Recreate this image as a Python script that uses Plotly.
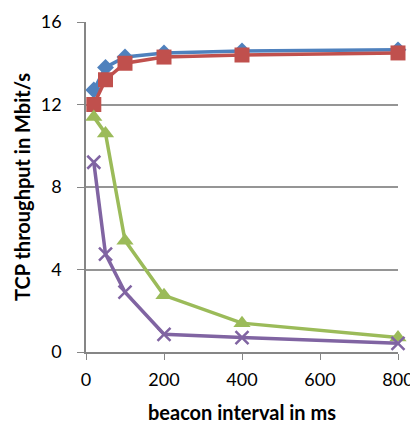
import plotly.graph_objects as go

x_vals = [20, 50, 100, 200, 400, 800]
blue_vals = [12.7, 13.8, 14.3, 14.5, 14.6, 14.65]
red_vals = [12.0, 13.2, 14.0, 14.3, 14.4, 14.5]
green_vals = [11.4, 10.6, 5.4, 2.75, 1.4, 0.7]
purple_vals = [9.2, 4.75, 2.9, 0.86, 0.7, 0.42]

x_ticks = [0, 200, 400, 600, 800]
y_ticks = [0, 4, 8, 12, 16]

series = [
    ("blue", blue_vals, "#4F81BD", "diamond", 13),
    ("red", red_vals, "#C0504D", "square", 15),
    ("green", green_vals, "#9BBB59", "triangle-up", 15),
    ("purple", purple_vals, "#8064A2", "x-thin", 13),
]

fig = go.Figure()
for name, vals, color, sym, size in series:
    marker = dict(symbol=sym, size=size, color=color)
    if sym == "x-thin":
        marker["line"] = dict(color=color, width=2.5)
    fig.add_trace(go.Scatter(
        x=x_vals, y=vals, mode="lines+markers", name=name,
        line=dict(color=color, width=3.5),
        marker=marker, cliponaxis=False,
    ))

# The page body has an 8px default margin, so the figure is sized to fit.
font = "Lato, 'Open Sans', sans-serif"
fig.update_layout(
    width=410, height=416,
    margin=dict(l=78, r=20, t=14, b=72),
    paper_bgcolor="white", plot_bgcolor="white",
    showlegend=False,
    font=dict(family=font, size=18, color="black"),
)
fig.update_xaxes(
    range=[0, 800], tickvals=x_ticks, showgrid=False,
    showline=True, linecolor="#868686", linewidth=1.5,
    ticks="outside", tickcolor="#868686", ticklen=6,
    ticklabelstandoff=5,
    zeroline=False, automargin=False,
    title=dict(text="<b>beacon interval in ms</b>", font=dict(size=20), standoff=20),
)
fig.update_yaxes(
    range=[0, 16], tickvals=y_ticks, showgrid=True,
    gridcolor="#959595", gridwidth=1.5,
    showline=True, linecolor="#868686", linewidth=1.5,
    ticks="outside", tickcolor="#868686", ticklen=7,
    ticklabelstandoff=12,
    zeroline=False, automargin=False,
    title=dict(text="<b>TCP throughput in Mbit/s</b>", font=dict(size=20), standoff=5),
)
fig.write_html("out.html")
